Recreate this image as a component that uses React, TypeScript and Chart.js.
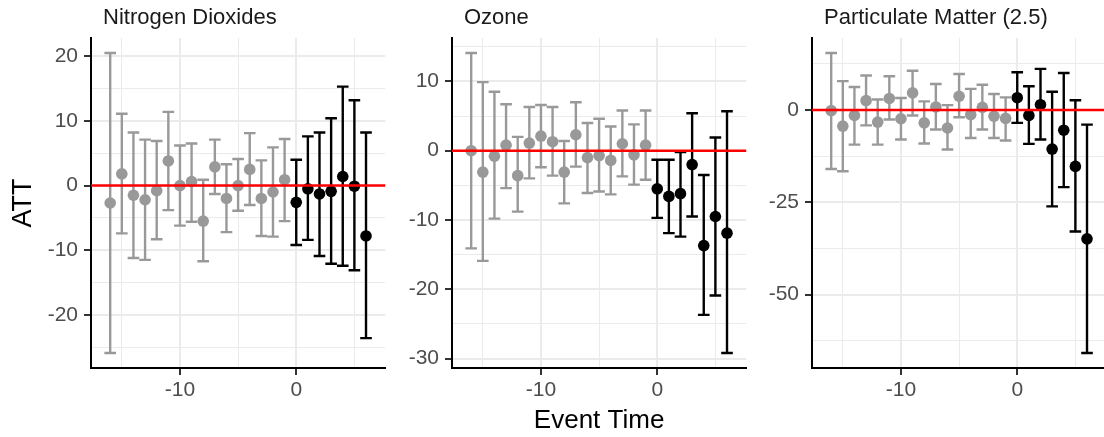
import React, { useEffect, useRef } from 'react';
import { Chart, registerables } from 'chart.js';

Chart.register(...registerables);

// ---------- data ----------
const eventTime = [-16, -15, -14, -13, -12, -11, -10, -9, -8, -7, -6, -5, -4, -3, -2, -1, 0, 1, 2, 3, 4, 5, 6];

const no2Att = [-2.7, 1.8, -1.5, -2.2, -0.8, 3.8, 0.0, 0.6, -5.5, 2.9, -2.0, 0.0, 2.5, -2.0, -1.0, 0.9, -2.6, -0.5, -1.3, -0.9, 1.4, -0.1, -7.8];
const no2Lower = [-25.9, -7.4, -11.2, -11.5, -8.3, -3.8, -6.2, -5.6, -11.7, -1.3, -7.2, -3.9, -3.0, -7.8, -7.9, -5.5, -9.2, -8.4, -10.9, -12.1, -12.4, -13.1, -23.6];
const no2Upper = [20.5, 11.1, 8.2, 7.1, 6.9, 11.4, 6.2, 6.5, 0.9, 7.1, 3.3, 4.1, 8.1, 3.9, 5.9, 7.2, 4.0, 7.6, 8.2, 10.4, 15.3, 13.2, 8.2];

const o3Att = [0.0, -3.1, -0.8, 0.8, -3.6, 1.1, 2.1, 1.3, -3.1, 2.3, -1.0, -0.7, -1.4, 1.0, -0.6, 0.8, -5.5, -6.6, -6.2, -2.0, -13.7, -9.5, -11.9];
const o3Lower = [-14.1, -15.9, -9.8, -5.4, -8.8, -4.0, -2.4, -3.6, -7.6, -2.3, -6.1, -5.9, -6.3, -3.7, -4.9, -4.2, -9.7, -11.9, -12.4, -9.5, -23.7, -20.9, -29.2];
const o3Upper = [14.1, 9.9, 8.5, 6.7, 2.0, 6.3, 6.6, 6.3, 1.4, 7.0, 4.0, 4.6, 3.5, 5.8, 3.8, 5.8, -1.3, -1.3, -0.2, 5.4, -3.5, 1.9, 5.7];

const pmAtt = [-0.2, -4.4, -1.5, 2.5, -3.3, 3.1, -2.4, 4.6, -3.5, 0.8, -4.9, 3.7, -1.3, 0.7, -1.7, -2.3, 3.3, -1.5, 1.4, -10.6, -5.5, -15.3, -34.9];
const pmLower = [-16.0, -16.6, -9.4, -4.2, -9.4, -2.6, -8.0, -1.5, -9.1, -5.3, -10.7, -2.0, -7.6, -5.3, -7.6, -8.3, -3.5, -9.2, -8.0, -26.1, -20.9, -32.9, -65.8];
const pmUpper = [15.4, 7.8, 6.2, 9.3, 2.8, 9.1, 3.2, 10.6, 2.3, 7.0, 1.3, 9.7, 5.7, 6.8, 4.3, 3.4, 10.2, 6.4, 11.1, 4.9, 10.0, 2.6, -4.0];

const xMajorTicks = [-10, 0];
const xMinorTicks = [-15, -5, 5];
const no2MajorTicks = [-20, -10, 0, 10, 20];
const no2MinorTicks = [-25, -15, -5, 5, 15];
const o3MajorTicks = [-30, -20, -10, 0, 10];
const o3MinorTicks = [-25, -15, -5, 5, 15];
const pmMajorTicks = [-50, -25, 0];
const pmMinorTicks = [-62.5, -37.5, -12.5, 12.5];

const panelTitles = ['Nitrogen Dioxides', 'Ozone', 'Particulate Matter (2.5)'];
const xAxisTitle = 'Event Time';
const yAxisTitle = 'ATT';
const referenceValue = 0;

// ---------- styling ----------
const FONT = '"Liberation Sans", Arial, Helvetica, sans-serif';
const GREY = '#999999';
const BLACK = '#000000';
const CAP = 0.5;

const errorBarPlugin = (lower: number[], upper: number[]) => ({
  id: 'errorbars',
  afterDatasetsDraw(chart: any) {
    const { ctx, scales, chartArea } = chart;
    const x = scales.x, y = scales.y;
    ctx.save();
    ctx.beginPath();
    ctx.rect(chartArea.left, chartArea.top, chartArea.right - chartArea.left, chartArea.bottom - chartArea.top);
    ctx.clip();
    ctx.lineWidth = 2.4;
    ctx.lineCap = 'butt';
    eventTime.forEach((t, i) => {
      ctx.strokeStyle = t < 0 ? GREY : BLACK;
      const px = x.getPixelForValue(t);
      const pl = x.getPixelForValue(t - CAP);
      const pr = x.getPixelForValue(t + CAP);
      const pTop = y.getPixelForValue(upper[i]);
      const pBot = y.getPixelForValue(lower[i]);
      ctx.beginPath();
      ctx.moveTo(px, pTop); ctx.lineTo(px, pBot);
      ctx.moveTo(pl, pTop); ctx.lineTo(pr, pTop);
      ctx.moveTo(pl, pBot); ctx.lineTo(pr, pBot);
      ctx.stroke();
    });
    ctx.restore();
  },
});

const refLinePlugin = {
  id: 'refline',
  afterDatasetsDraw(chart: any) {
    const { ctx, scales, chartArea } = chart;
    const py = scales.y.getPixelForValue(referenceValue);
    ctx.save();
    ctx.strokeStyle = '#FF0000';
    ctx.lineWidth = 2.5;
    ctx.beginPath();
    ctx.moveTo(chartArea.left, py);
    ctx.lineTo(chartArea.right, py);
    ctx.stroke();
    ctx.restore();
  },
};

const stripTitlePlugin = (title: string) => ({
  id: 'striptitle',
  afterDraw(chart: any) {
    const { ctx, chartArea } = chart;
    ctx.save();
    ctx.font = `22px ${FONT}`;
    ctx.fillStyle = '#1A1A1A';
    ctx.textAlign = 'left';
    ctx.textBaseline = 'middle';
    ctx.fillText(title, chartArea.left + 12, 17.5);
    ctx.restore();
  },
});

type PanelCfg = {
  att: number[];
  lower: number[];
  upper: number[];
  yMajor: number[];
  yMinor: number[];
  title: string;
  showXTitle: boolean;
  showYTitle: boolean;
  yAxisWidth: number;
};

function buildChart(canvas: HTMLCanvasElement, cfg: PanelCfg) {
  const xLo = Math.min(...eventTime) - CAP;
  const xHi = Math.max(...eventTime) + CAP;
  const xPad = (xHi - xLo) * 0.05;
  const yLo = Math.min(...cfg.lower);
  const yHi = Math.max(...cfg.upper);
  const yPad = (yHi - yLo) * 0.05;
  const points = eventTime.map((t, i) => ({ x: t, y: cfg.att[i] }));
  const xTicks = [...xMinorTicks, ...xMajorTicks].sort((a, b) => a - b);
  const yTicks = [...cfg.yMinor, ...cfg.yMajor].sort((a, b) => a - b);
  const isXMajor = (v: any) => xMajorTicks.includes(v);
  const isYMajor = (v: any) => cfg.yMajor.includes(v);

  return new Chart(canvas, {
    type: 'scatter',
    data: {
      datasets: [
        {
          data: points,
          pointRadius: 5.8,
          pointHoverRadius: 5.8,
          pointBorderWidth: 0,
          borderColor: 'rgba(0,0,0,0)',
          pointBackgroundColor: (ctx: any) => (ctx.raw && ctx.raw.x < 0 ? GREY : BLACK),
        } as any,
      ],
    },
    options: {
      responsive: false,
      animation: false,
      devicePixelRatio: 1,
      events: [],
      layout: { padding: { top: 38, left: 0, right: 0, bottom: 0 } },
      plugins: {
        legend: { display: false },
        tooltip: { enabled: false },
        title: { display: false },
      },
      scales: {
        x: {
          type: 'linear',
          position: 'bottom',
          min: xLo - xPad,
          max: xHi + xPad,
          afterBuildTicks: (s: any) => {
            s.ticks = xTicks.map((v) => ({ value: v }));
          },
          afterFit: (s: any) => {
            s.height = 69;
          },
          ticks: {
            autoSkip: false,
            maxRotation: 0,
            padding: 3,
            color: '#4D4D4D',
            font: { family: FONT, size: 21 },
            callback: (v: any) => (isXMajor(v) ? String(v) : ''),
          },
          grid: {
            color: '#EBEBEB',
            lineWidth: (ctx: any) => (ctx.tick && isXMajor(ctx.tick.value) ? 2 : 1),
            tickLength: 7,
            tickColor: (ctx: any) => (ctx.tick && isXMajor(ctx.tick.value) ? '#333333' : 'rgba(0,0,0,0)'),
            tickWidth: 2,
          },
          border: { display: true, color: '#000000', width: 2 },
          title: {
            display: cfg.showXTitle,
            text: xAxisTitle,
            color: '#000000',
            font: { family: FONT, size: 26 },
            padding: { top: 0, bottom: 1 },
          },
        } as any,
        y: {
          type: 'linear',
          position: 'left',
          min: yLo - yPad,
          max: yHi + yPad,
          afterBuildTicks: (s: any) => {
            s.ticks = yTicks.map((v) => ({ value: v }));
          },
          afterFit: (s: any) => {
            s.width = cfg.yAxisWidth;
          },
          ticks: {
            autoSkip: false,
            padding: 6,
            color: '#4D4D4D',
            font: { family: FONT, size: 21 },
            callback: (v: any) => (isYMajor(v) ? String(v) : ''),
          },
          grid: {
            color: '#EBEBEB',
            lineWidth: (ctx: any) => (ctx.tick && isYMajor(ctx.tick.value) ? 2 : 1),
            tickLength: 7,
            tickColor: (ctx: any) => (ctx.tick && isYMajor(ctx.tick.value) ? '#333333' : 'rgba(0,0,0,0)'),
            tickWidth: 2,
          },
          border: { display: true, color: '#000000', width: 2 },
          title: {
            display: cfg.showYTitle,
            text: yAxisTitle,
            color: '#000000',
            font: { family: FONT, size: 27 },
            padding: { top: 7, bottom: 0 },
          },
        } as any,
      },
    },
    plugins: [errorBarPlugin(cfg.lower, cfg.upper), refLinePlugin, stripTitlePlugin(cfg.title)],
  } as any);
}

const panels = [
  { left: 0, width: 391, cfg: { att: no2Att, lower: no2Lower, upper: no2Upper, yMajor: no2MajorTicks, yMinor: no2MinorTicks, title: panelTitles[0], showXTitle: false, showYTitle: true, yAxisWidth: 91 } },
  { left: 391, width: 361, cfg: { att: o3Att, lower: o3Lower, upper: o3Upper, yMajor: o3MajorTicks, yMinor: o3MinorTicks, title: panelTitles[1], showXTitle: true, showYTitle: false, yAxisWidth: 61 } },
  { left: 752, width: 360, cfg: { att: pmAtt, lower: pmLower, upper: pmUpper, yMajor: pmMajorTicks, yMinor: pmMinorTicks, title: panelTitles[2], showXTitle: false, showYTitle: false, yAxisWidth: 60 } },
];

function Panel({ left, width, cfg }: { left: number; width: number; cfg: PanelCfg }) {
  const ref = useRef<HTMLCanvasElement | null>(null);
  useEffect(() => {
    if (!ref.current) return;
    const chart = buildChart(ref.current, cfg);
    return () => chart.destroy();
  }, []);
  return (
    <canvas
      ref={ref}
      width={width}
      height={437}
      style={{ position: 'absolute', left, top: 0, width, height: 437, display: 'block' }}
    />
  );
}

export default function App() {
  useEffect(() => {
    document.body.style.margin = '0';
    document.body.style.background = '#FFFFFF';
  }, []);
  return (
    <div style={{ position: 'relative', width: 1104, height: 437, overflow: 'hidden', background: '#FFFFFF' }}>
      {panels.map((p, i) => (
        <Panel key={i} left={p.left} width={p.width} cfg={p.cfg} />
      ))}
    </div>
  );
}
